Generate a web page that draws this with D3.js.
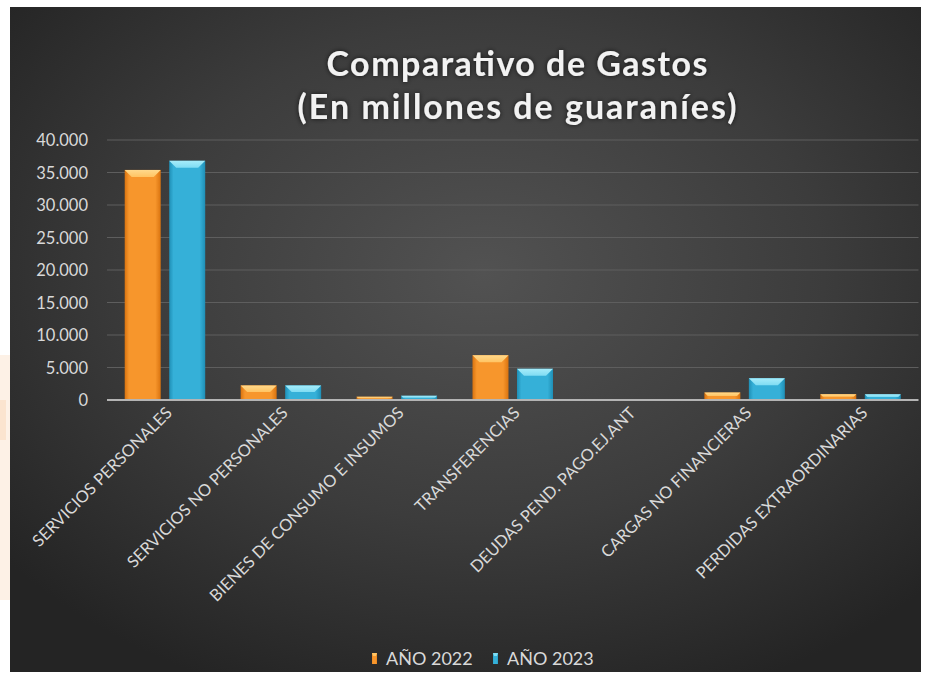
<!DOCTYPE html>
<html><head><meta charset="utf-8">
<script src="https://cdn.jsdelivr.net/npm/d3@7"></script>
<style>
html,body{margin:0;padding:0;background:#fff;}
svg{display:block;}
</style></head>
<body>
<svg id="c" width="930" height="684"></svg>
<script>
const categories = ["SERVICIOS PERSONALES","SERVICIOS NO PERSONALES","BIENES DE CONSUMO E INSUMOS","TRANSFERENCIAS","DEUDAS PEND. PAGO.EJ.ANT","CARGAS NO FINANCIERAS","PERDIDAS EXTRAORDINARIAS"];
const seriesNames = ["AÑO 2022","AÑO 2023"];
const values2022 = [35400, 2250, 500, 6900, 0, 1150, 900];
const values2023 = [36800, 2250, 650, 4800, 0, 3350, 870];
const yTicks = [0,5000,10000,15000,20000,25000,30000,35000,40000];
const titleLines = ["Comparativo de Gastos","(En millones de guaraníes)"];

const svg = d3.select("#c");
const defs = svg.append("defs");

// background panel gradient
const bg = defs.append("radialGradient").attr("id","bg").attr("cx","52%").attr("cy","40%").attr("r","68%");
bg.append("stop").attr("offset","0%").attr("stop-color","#525252");
bg.append("stop").attr("offset","55%").attr("stop-color","#3c3c3c");
bg.append("stop").attr("offset","100%").attr("stop-color","#242424");

// faint slide background on the left edge
svg.append("rect").attr("x",0).attr("y",355).attr("width",10).attr("height",245).attr("fill","#fdf1e6");
svg.append("rect").attr("x",0).attr("y",400).attr("width",6).attr("height",40).attr("fill","#fbe4cf");
svg.append("rect").attr("x",10).attr("y",7).attr("width",911).attr("height",665).attr("fill","url(#bg)");

const colors = [
  {id:"o", edge:"#d9730f", body:"#f7962c", top:"#ffc463", topEdge:"#ffd98c"},
  {id:"b", edge:"#1f8fb6", body:"#35b0d8", top:"#7fdcf3", topEdge:"#a6ecfa"}
];
colors.forEach(c=>{
  const g = defs.append("linearGradient").attr("id","g"+c.id).attr("x1","0").attr("x2","1").attr("y1","0").attr("y2","0");
  g.append("stop").attr("offset","0%").attr("stop-color",c.edge);
  g.append("stop").attr("offset","12%").attr("stop-color",c.body);
  g.append("stop").attr("offset","85%").attr("stop-color",c.body);
  g.append("stop").attr("offset","100%").attr("stop-color",c.edge);
  const t = defs.append("linearGradient").attr("id","t"+c.id).attr("x1","0").attr("x2","0").attr("y1","0").attr("y2","1");
  t.append("stop").attr("offset","0%").attr("stop-color",c.topEdge);
  t.append("stop").attr("offset","100%").attr("stop-color",c.top);
});

const glow = defs.append("filter").attr("id","glow").attr("x","-10%").attr("y","-30%").attr("width","120%").attr("height","160%");
glow.append("feGaussianBlur").attr("in","SourceAlpha").attr("stdDeviation",2.5).attr("result","b");
glow.append("feFlood").attr("flood-color","#000").attr("flood-opacity",0.7);
glow.append("feComposite").attr("in2","b").attr("operator","in").attr("result","s");
const fm = glow.append("feMerge");
fm.append("feMergeNode").attr("in","s");
fm.append("feMergeNode").attr("in","SourceGraphic");

const x0 = 107, x1 = 918.5, yTop = 140, yBot = 400;
const x = d3.scaleBand().domain(categories).range([x0,x1]).paddingInner(0).paddingOuter(0);
const y = d3.scaleLinear().domain([0,40000]).range([yBot,yTop]);
const locale = d3.formatLocale({decimal:",", thousands:".", grouping:[3], currency:["",""]});
const fmt = locale.format(",d");

// gridlines
svg.append("g").selectAll("line").data(yTicks.filter(d=>d>0)).join("line")
  .attr("x1",x0).attr("x2",x1).attr("y1",d=>y(d)).attr("y2",d=>y(d))
  .attr("stroke","#5e5e5e").attr("stroke-width",1.2);

// y axis labels
const ya = svg.append("g").attr("transform",`translate(${x0-19},0)`)
  .call(d3.axisLeft(y).tickValues(yTicks).tickFormat(fmt).tickSize(0).tickPadding(0));
ya.select(".domain").remove();
ya.selectAll("text").attr("fill","#d9d9d9").style("font-family","Lato, 'Open Sans', sans-serif").style("font-size","16.5px").attr("dy","0.34em");

// bars
const barW = 36, gap = 8.5;
const series = [values2022, values2023];
series.forEach((vals, si)=>{
  const c = colors[si];
  const g = svg.append("g");
  const data = categories.map((cat,i)=>({cat, v: vals[i]})).filter(d=>d.v>0);
  const bx = d => x(d.cat) + x.bandwidth()/2 + (si===0 ? -gap/2 - barW : gap/2);
  g.selectAll("rect").data(data).join("rect")
    .attr("x",bx).attr("y",d=>y(d.v)).attr("width",barW).attr("height",d=>yBot-y(d.v))
    .attr("fill","url(#g"+c.id+")");
  g.selectAll("polygon").data(data).join("polygon")
    .attr("points",d=>{
      const X = bx(d), Y = y(d.v), h = yBot - Y, b = Math.min(7, h*0.45);
      return [[X,Y],[X+barW,Y],[X+barW-b,Y+b],[X+b,Y+b]].map(p=>p.join(",")).join(" ");
    })
    .attr("fill","url(#t"+c.id+")");
});

// x axis line
svg.append("line").attr("x1",x0).attr("x2",x1).attr("y1",yBot).attr("y2",yBot)
  .attr("stroke","#b4b4b4").attr("stroke-width",2);

// x labels (rotated)
svg.append("g").selectAll("text").data(categories).join("text")
  .attr("transform",d=>`translate(${x(d)+x.bandwidth()/2+8},${yBot+14}) rotate(-45)`)
  .attr("text-anchor","end")
  .attr("fill","#d9d9d9")
  .style("font-family","Lato, 'Open Sans', sans-serif").style("font-size","16.5px")
  .text(d=>d);

// title
const tw = [381, 439];
svg.append("g").selectAll("text").data(titleLines).join("text")
  .attr("x",517).attr("y",(d,i)=>i===0?76:119)
  .attr("text-anchor","middle")
  .attr("fill","#f2f2f2")
  .attr("filter","url(#glow)")
  .style("font-family","Lato, 'Open Sans', sans-serif").style("font-weight","bold").style("font-size","34px")
  .attr("textLength",(d,i)=>tw[i]).attr("lengthAdjust","spacing")
  .text(d=>d);

// legend
const legX = [372, 493];
const lg = svg.append("g");
seriesNames.forEach((n,i)=>{
  const c = colors[i];
  lg.append("rect").attr("x",legX[i]).attr("y",653).attr("width",5).attr("height",11).attr("fill","url(#g"+c.id+")");
  lg.append("polygon").attr("points",`${legX[i]},653 ${legX[i]+5},653 ${legX[i]+4},656 ${legX[i]+1},656`).attr("fill",c.top);
  lg.append("text").attr("x",legX[i]+14).attr("y",665).attr("fill","#d9d9d9")
    .style("font-family","Lato, 'Open Sans', sans-serif").style("font-size","18px").text(n);
});
</script>
</body></html>
